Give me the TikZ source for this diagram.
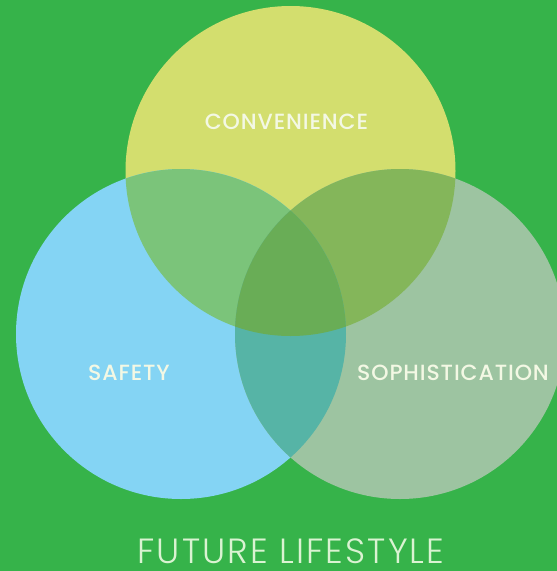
\documentclass[tikz,border=0pt]{standalone}
\usepackage{fontspec}
\setmainfont{Poppins}
\newfontfamily\labelfont{Poppins}[UprightFont=* Medium, LetterSpace=4]
\newfontfamily\titlefont{Poppins}[UprightFont=* Light, LetterSpace=6]
\usetikzlibrary{positioning}

\definecolor{bggreen}{HTML}{36B34A}
\definecolor{convfill}{HTML}{D3DE6E}
\definecolor{safefill}{HTML}{84D4F4}
\definecolor{sophfill}{HTML}{9DC4A1}
\definecolor{convsafe}{HTML}{7BC47A}
\definecolor{convsoph}{HTML}{84B65A}
\definecolor{safesoph}{HTML}{56B4A6}
\definecolor{allthree}{HTML}{69AD56}
\definecolor{labelwhite}{HTML}{F3F8E4}
\definecolor{titlewhite}{HTML}{DAF3D2}

\begin{document}
\begin{tikzpicture}[x=1pt, y=-1pt,
        label_text/.style={inner sep=0pt, text=labelwhite, font=\labelfont\fontsize{22}{22}\selectfont},
        title_text/.style={inner sep=0pt, text=titlewhite, font=\titlefont\fontsize{35}{35}\selectfont}]

        % Canvas
        \clip (0,0) rectangle (557,571);
        \fill [bggreen] (0,0) rectangle (557,571);

        % Circle centres
        \coordinate (conv_c) at (290.5,171);
        \coordinate (safe_c) at (181,334);
        \coordinate (soph_c) at (400,334);

        % Circles
        \fill [convfill] (conv_c) circle [radius=165];
        \fill [safefill] (safe_c) circle [radius=165];
        \fill [sophfill] (soph_c) circle [radius=165];

        % Overlaps of two circles
        \begin{scope}
            \clip (conv_c) circle [radius=165];
            \fill [convsafe] (safe_c) circle [radius=165];
            \fill [convsoph] (soph_c) circle [radius=165];
        \end{scope}
        \begin{scope}
            \clip (safe_c) circle [radius=165];
            \fill [safesoph] (soph_c) circle [radius=165];
        \end{scope}

        % Overlap of all three
        \begin{scope}
            \clip (conv_c) circle [radius=165];
            \clip (safe_c) circle [radius=165];
            \fill [allthree] (soph_c) circle [radius=165];
        \end{scope}

        % Labels
        \node [label_text] (conv_label) at (286.5,121.5) {CONVENIENCE};
        \node [label_text] (safe_label) at (129,372.5) {SAFETY};
        \node [label_text] (soph_label) at (453,372.5) {SOPHISTICATION};
        \node [title_text] (title) at (291,551.5) {FUTURE LIFESTYLE};
    \end{tikzpicture}
\end{document}
